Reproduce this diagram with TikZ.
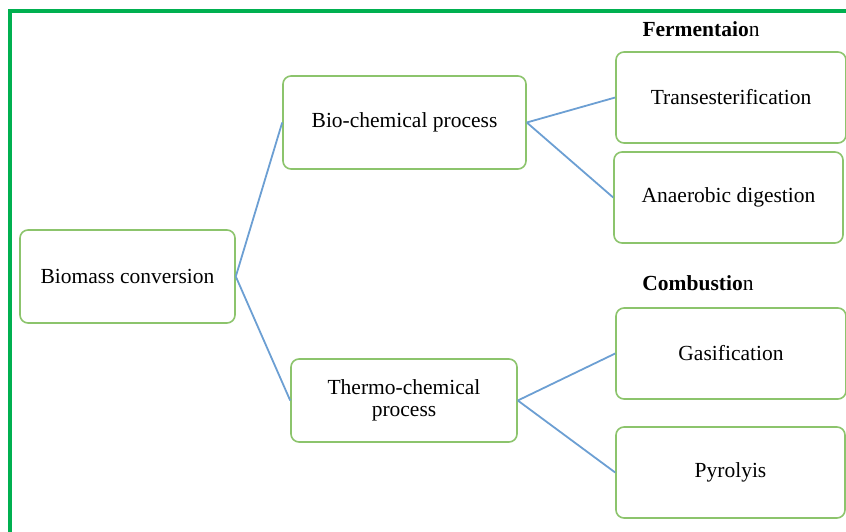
\documentclass[tikz,border=0pt]{standalone}
\usepackage{fontspec}
\setmainfont{Liberation Serif}
\begin{document}
\begin{tikzpicture}[x=1pt,y=-1pt,
  box/.style={draw=boxgreen, line width=1.6pt, rounded corners=8pt, fill=white, inner sep=0pt, align=center, font=\fontsize{21.5}{22}\selectfont},
  link/.style={draw=linkblue, line width=1.8pt},
  lbl/.style={font=\fontsize{21.5}{22}\selectfont, inner sep=0pt}]
\definecolor{boxgreen}{HTML}{8CC46C}
\definecolor{linkblue}{HTML}{6C9FD3}
\definecolor{framegreen}{HTML}{00B050}
\useasboundingbox (0,0) rectangle (846,532);
\draw[framegreen, line width=3.2pt] (10,532) -- (10,11) -- (846,11);
\node[box, minimum width=215pt, minimum height=93pt] (bio) at (127.5,276.5) {Biomass conversion};
\node[box, minimum width=243pt, minimum height=93pt] (bc) at (404.5,122.5) {Bio-chemical process};
\node[box, minimum width=226pt, minimum height=83pt] (tc) at (404,400.5) {Thermo-chemical\\process};
\node[box, minimum width=230pt, minimum height=91pt] (tr) at (731,97.5) {Transesterification};
\node[box, minimum width=229pt, minimum height=91pt] (an) at (728.5,197.5) {Anaerobic digestion};
\node[box, minimum width=230pt, minimum height=91pt] (ga) at (731,353.5) {Gasification};
\node[box, minimum width=229pt, minimum height=91pt] (py) at (730.5,472.5) {Pyrolyis};
\node[lbl] (fe) at (701,29) {\textbf{Fermentaio}n};
\node[lbl] (co) at (698,283) {\textbf{Combustio}n};
\draw[link] (bio.east) -- (bc.west);
\draw[link] (bio.east) -- (tc.west);
\draw[link] (bc.east) -- (tr.west);
\draw[link] (bc.east) -- (an.west);
\draw[link] (tc.east) -- (ga.west);
\draw[link] (tc.east) -- (py.west);
\end{tikzpicture}
\end{document}
